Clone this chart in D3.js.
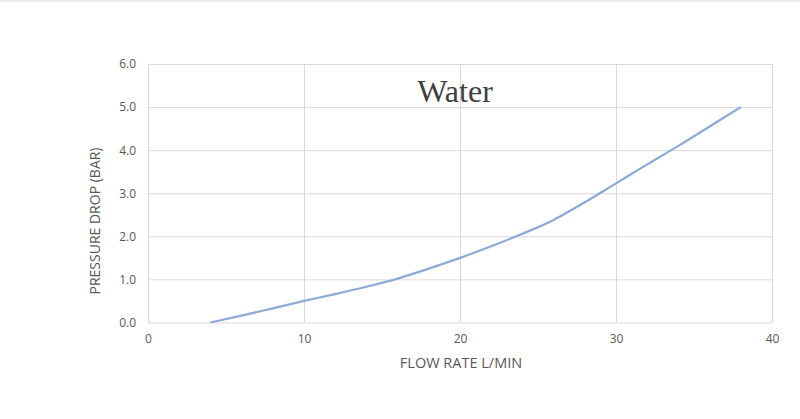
<!DOCTYPE html>
<html>
<head>
<meta charset="utf-8">
<script src="https://cdn.jsdelivr.net/npm/d3@7"></script>
<style>
  body { margin: 0; background: #fff; }
  .tick text { fill: #595959; font-family: "Open Sans", sans-serif; font-size: 12px; }
</style>
</head>
<body>
<svg width="800" height="419"></svg>
<script>
// flow rate (L/min) and pressure drop (bar)
var flow = [4, 6, 8, 10, 12, 14, 16, 18, 20, 22, 24, 26, 27, 28, 30, 32, 34, 36, 38];
var pressure = [0, 0.16, 0.33, 0.5, 0.66, 0.83, 1.02, 1.25, 1.5, 1.77, 2.06, 2.38, 2.58, 2.79, 3.23, 3.67, 4.1, 4.55, 5.0];
var xTicks = [0, 10, 20, 30, 40];
var yTicks = [0, 1, 2, 3, 4, 5, 6];

var svg = d3.select('svg');

var plotLeft = 148, plotRight = 772,
    plotTop = 64, plotBottom = 322.5;

var x = d3.scaleLinear().domain([0, 40]).range([plotLeft, plotRight]);
var y = d3.scaleLinear().domain([0, 6]).range([plotBottom, plotTop]);

// thin line across the top of the page
svg.append('line')
    .attr('x1', 0).attr('x2', 800)
    .attr('y1', 1).attr('y2', 1)
    .attr('stroke', '#d9d9d9');

// gridlines
svg.append('g')
    .attr('transform', 'translate(' + plotLeft + ',0)')
    .call(d3.axisLeft(y).tickValues(yTicks).tickSize(-(plotRight - plotLeft)).tickFormat(''))
    .call(function(g) { g.select('.domain').remove(); })
    .selectAll('line').attr('stroke', '#d9d9d9');

svg.append('g')
    .attr('transform', 'translate(0,' + plotTop + ')')
    .call(d3.axisBottom(x).tickValues(xTicks).tickSize(plotBottom - plotTop).tickFormat(''))
    .call(function(g) { g.select('.domain').remove(); })
    .selectAll('line').attr('stroke', '#d9d9d9');

// tick labels
svg.append('g')
    .attr('transform', 'translate(' + plotLeft + ',0)')
    .call(d3.axisLeft(y).tickValues(yTicks).tickSize(0).tickPadding(12).tickFormat(d3.format('.1f')))
    .call(function(g) { g.select('.domain').remove(); });

svg.append('g')
    .attr('transform', 'translate(0,' + plotBottom + ')')
    .call(d3.axisBottom(x).tickValues(xTicks).tickSize(0).tickPadding(12))
    .call(function(g) { g.select('.domain').remove(); });

// the curve
var line = d3.line()
    .x(function(d, i) { return x(flow[i]); })
    .y(function(d) { return y(d); })
    .curve(d3.curveMonotoneX);

svg.append('path')
    .datum(pressure)
    .attr('fill', 'none')
    .attr('stroke', '#90aad6')
    .attr('stroke-width', 2.25)
    .attr('d', line);

// title and axis titles
svg.append('text')
    .attr('x', 455).attr('y', 102)
    .attr('text-anchor', 'middle')
    .attr('fill', '#404040')
    .style('font-family', '"Liberation Serif", serif')
    .style('font-size', '32px')
    .text('Water');

svg.append('text')
    .attr('x', 461).attr('y', 368)
    .attr('text-anchor', 'middle')
    .attr('fill', '#595959')
    .style('font-family', '"Open Sans", sans-serif')
    .style('font-size', '14.5px')
    .text('FLOW RATE L/MIN');

svg.append('text')
    .attr('transform', 'translate(100,221) rotate(-90)')
    .attr('text-anchor', 'middle')
    .attr('fill', '#595959')
    .style('font-family', '"Open Sans", sans-serif')
    .style('font-size', '14px')
    .text('PRESSURE DROP (BAR)');
</script>
</body>
</html>
